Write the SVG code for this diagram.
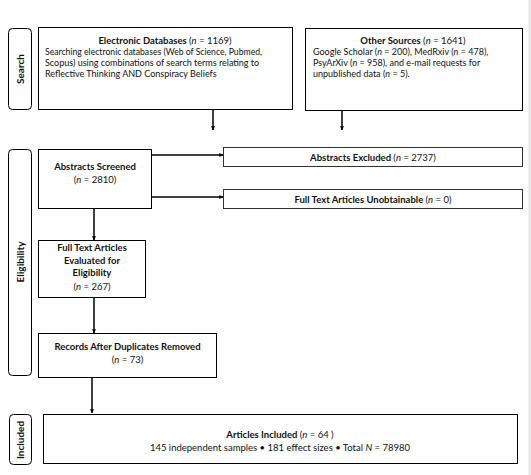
<svg xmlns="http://www.w3.org/2000/svg" width="531" height="475" viewBox="0 0 531 475">
<defs>
<marker id="ah" viewBox="0 0 6 6" refX="5.5" refY="3" markerWidth="4" markerHeight="4" orient="auto" markerUnits="userSpaceOnUse">
<path d="M0,0 L6,3 L0,6 z" fill="#000"/>
</marker>
<style>
text{font-family:Lato,"Open Sans","Liberation Sans",sans-serif;fill:#111;}
.t{font-size:9.5px;font-weight:bold;text-anchor:middle;}
.b{font-size:9px;}
.c{font-size:9.5px;text-anchor:middle;}
.box{fill:#fff;stroke:#000;stroke-width:1;}
.box2{fill:#fff;stroke:#333;stroke-width:1;}
.lab{fill:#fff;stroke:#000;stroke-width:1;}
.lt{font-size:10px;font-weight:bold;text-anchor:middle;}
.con{stroke:#000;stroke-width:1.5;fill:none;marker-end:url(#ah);}
</style>
</defs>
<rect width="531" height="475" fill="#fff"/>
<line x1="529.5" y1="0" x2="529.5" y2="475" stroke="#e4e4e4" stroke-width="2"/>

<g id="label-search">
<rect class="lab" x="8.5" y="28.5" width="23" height="81" rx="4"/>
<text class="lt" transform="translate(23.5,69) rotate(-90)">Search</text>
</g>
<g id="label-eligibility">
<rect class="lab" x="8.5" y="149.5" width="23" height="226" rx="4"/>
<text class="lt" transform="translate(23.5,262) rotate(-90)">Eligibility</text>
</g>
<g id="label-included">
<rect class="lab" x="9.5" y="414.5" width="22" height="50" rx="4"/>
<text class="lt" transform="translate(24,440) rotate(-90)">Included</text>
</g>

<g id="electronic-databases">
<rect class="box" x="38.5" y="27.5" width="254" height="82"/>
<text class="t" x="165" y="44">Electronic Databases <tspan font-weight="normal">(<tspan font-style="italic">n</tspan> = 1169)</tspan></text>
<text class="b" x="45" y="55" textLength="217" lengthAdjust="spacingAndGlyphs">Searching electronic databases (Web of Science, Pubmed,</text>
<text class="b" x="45" y="66">Scopus) using combinations of search terms relating to</text>
<text class="b" x="45" y="77">Reflective Thinking AND Conspiracy Beliefs</text>
</g>

<g id="other-sources">
<rect class="box" x="305.5" y="28.5" width="217" height="82"/>
<text class="t" x="413" y="44">Other Sources <tspan font-weight="normal">(<tspan font-style="italic">n</tspan> = 1641)</tspan></text>
<text class="b" x="313" y="55">Google Scholar (<tspan font-style="italic">n</tspan> = 200), MedRxiv (<tspan font-style="italic">n</tspan> = 478),</text>
<text class="b" x="313" y="66">PsyArXiv (<tspan font-style="italic">n</tspan> = 958), and e-mail requests for</text>
<text class="b" x="313" y="77">unpublished data (<tspan font-style="italic">n</tspan> = 5).</text>
</g>

<g id="abstracts-screened">
<rect class="box" x="38.5" y="149.5" width="113" height="59"/>
<text class="t" x="95" y="170">Abstracts Screened</text>
<text class="c" x="95" y="183">(<tspan font-style="italic">n</tspan> = 2810)</text>
</g>

<g id="abstracts-excluded">
<rect class="box2" x="223.5" y="147.5" width="299" height="19"/>
<text class="t" x="373" y="160.5" font-size="10">Abstracts Excluded <tspan font-weight="normal">(<tspan font-style="italic">n</tspan> = 2737)</tspan></text>
</g>

<g id="full-text-unobtainable">
<rect class="box2" x="223.5" y="189.5" width="299" height="19"/>
<text class="t" x="373" y="202.5">Full Text Articles Unobtainable <tspan font-weight="normal">(<tspan font-style="italic">n</tspan> = 0)</tspan></text>
</g>

<g id="full-text-evaluated">
<rect class="box" x="38.5" y="240.5" width="107" height="57"/>
<text class="t" x="92" y="251">Full Text Articles</text>
<text class="t" x="92" y="264">Evaluated for</text>
<text class="t" x="92" y="276">Eligibility</text>
<text class="c" x="92" y="290">(<tspan font-style="italic">n</tspan> = 267)</text>
</g>

<g id="records-after-duplicates">
<rect class="box" x="38.5" y="333.5" width="178" height="44"/>
<text class="t" x="127.5" y="350">Records After Duplicates Removed</text>
<text class="c" x="127.5" y="363">(<tspan font-style="italic">n</tspan> = 73)</text>
</g>

<g id="articles-included">
<rect class="box" x="43.5" y="414.5" width="474" height="49"/>
<text class="t" x="280" y="438">Articles Included <tspan font-weight="normal">(<tspan font-style="italic">n</tspan> = 64 )</tspan></text>
<text class="c" x="280" y="451">145 independent samples • 181 effect sizes • Total <tspan font-style="italic">N</tspan> = 78980</text>
</g>

<g id="connectors">
<line class="con" x1="213" y1="110" x2="213" y2="130"/>
<line class="con" x1="342" y1="111" x2="342" y2="130"/>
<line class="con" x1="152" y1="155" x2="223" y2="155"/>
<line class="con" x1="152" y1="197" x2="223" y2="197"/>
<line class="con" x1="94" y1="209" x2="94" y2="240"/>
<line class="con" x1="94" y1="298" x2="94" y2="333"/>
<line class="con" x1="92" y1="378" x2="92" y2="413"/>
</g>
</svg>
